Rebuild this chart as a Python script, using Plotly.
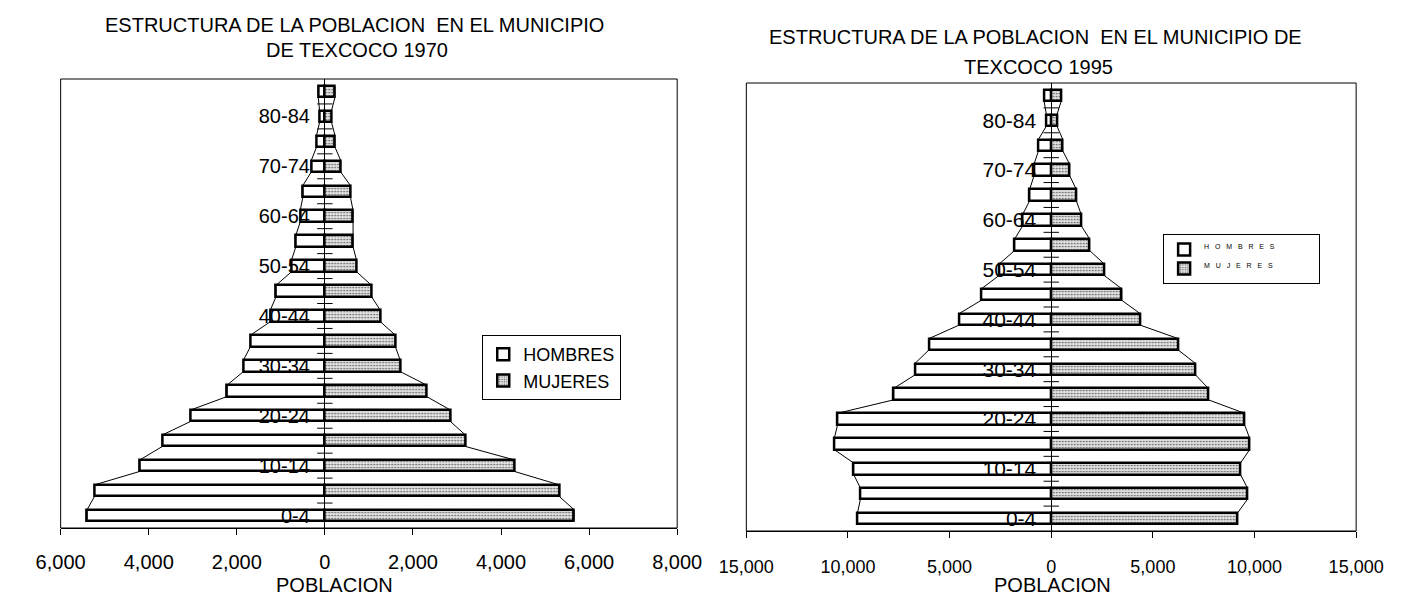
import plotly.graph_objects as go

# ---------------- data ----------------
age_groups = ["0-4", "5-9", "10-14", "15-19", "20-24", "25-29", "30-34", "35-39",
              "40-44", "45-49", "50-54", "55-59", "60-64", "65-69", "70-74",
              "75-79", "80-84", "85+"]

hombres_1970 = [5400, 5230, 4200, 3690, 3050, 2220, 1850, 1690, 1240, 1110,
                760, 660, 560, 500, 310, 190, 120, 150]
mujeres_1970 = [5660, 5320, 4300, 3190, 2850, 2310, 1710, 1600, 1260, 1060,
                720, 640, 640, 580, 360, 230, 150, 230]

hombres_1995 = [9530, 9390, 9720, 10670, 10510, 7750, 6710, 6020, 4540, 3440,
                2560, 1800, 1400, 1060, 850, 630, 240, 350]
mujeres_1995 = [9170, 9650, 9310, 9760, 9510, 7730, 7100, 6250, 4380, 3470,
                2600, 1890, 1470, 1230, 910, 570, 280, 490]

x_ticks_1970 = [-6000, -4000, -2000, 0, 2000, 4000, 6000, 8000]
x_ticks_1995 = [-15000, -10000, -5000, 0, 5000, 10000, 15000]
x_range_1970 = [-6000, 8000]
x_range_1995 = [-15000, 15000]

title_1970 = ["ESTRUCTURA DE LA POBLACION\u00a0 EN EL MUNICIPIO", "DE TEXCOCO 1970"]
title_1995 = ["ESTRUCTURA DE LA POBLACION\u00a0 EN EL MUNICIPIO DE", "TEXCOCO 1995"]
axis_title = "POBLACION"
legend_names = ["HOMBRES", "MUJERES"]

# ---------------- layout geometry (page pixels) ----------------
W, H = 1412, 597
FONT = "Liberation Sans, Arial, sans-serif"
BW = 0.46  # bar thickness in category units

left_px = dict(x0=34, x1=676, y0=79, y1=528)
right_px = dict(x0=748, x1=1383, y0=83, y1=531)


def xdom(p):
    return [p["x0"] / W, p["x1"] / W]


def ydom(p):
    return [(H - p["y1"]) / H, (H - p["y0"]) / H]


def zero_pos(p, rng):
    return (p["x0"] + (p["x1"] - p["x0"]) * (0 - rng[0]) / (rng[1] - rng[0])) / W


pos = list(range(len(age_groups)))

fig = go.Figure()

women_pattern = dict(shape=".", fgcolor="#5a5a5a", bgcolor="#e2e2e2",
                     size=3, solidity=0.25, fillmode="replace")


def add_pyramid(men, women, xa, ya, legend, names):
    # series lines (Excel style connectors between bar ends)
    for vals, sign in ((men, -1), (women, 1)):
        xs, ys = [], []
        for i, v in enumerate(vals):
            xs += [sign * v, sign * v]
            ys += [pos[i] - BW / 2, pos[i] + BW / 2]
        fig.add_trace(go.Scatter(x=xs, y=ys, mode="lines",
                                 line=dict(color="black", width=1),
                                 xaxis=xa, yaxis=ya, showlegend=False,
                                 hoverinfo="skip"))
    fig.add_trace(go.Bar(y=pos, x=[-v for v in men], orientation="h",
                         width=BW, name=names[0],
                         marker=dict(color="white",
                                     line=dict(color="black", width=2.5)),
                         xaxis=xa, yaxis=ya, legend=legend,
                         legendgroup=legend + "h"))
    fig.add_trace(go.Bar(y=pos, x=women, orientation="h",
                         width=BW, name=names[1],
                         marker=dict(color="#e2e2e2", pattern=women_pattern,
                                     line=dict(color="black", width=2.5)),
                         xaxis=xa, yaxis=ya, legend=legend,
                         legendgroup=legend + "m"))
    # small ticks crossing the vertical axis at category boundaries
    fig.add_trace(go.Scatter(x=[0] * (len(pos) - 1),
                             y=[p + 0.5 for p in pos[:-1]],
                             mode="markers",
                             marker=dict(symbol="line-ew", size=11,
                                         line=dict(color="black", width=1)),
                             xaxis=xa, yaxis=ya, showlegend=False,
                             hoverinfo="skip"))


add_pyramid(hombres_1970, mujeres_1970, "x", "y", "legend", legend_names)
sp = "\u00a0\u00a0 "
trail = "\u00a0" * 14
add_pyramid(hombres_1995, mujeres_1995, "x2", "y2", "legend2",
            ["<sup>" + sp.join(n) + "</sup>" + trail for n in legend_names])


def fmt(v):
    return f"{abs(v):,}"


even_pos = pos[::2]
even_labels = age_groups[::2]

common_x = dict(showgrid=False, zeroline=True, zerolinecolor="black",
                zerolinewidth=1, showline=True, linecolor="black",
                linewidth=1, ticks="outside", ticklen=6, tickcolor="black",
                fixedrange=True)
common_y = dict(showgrid=False, zeroline=False, showline=False,
                range=[-0.5, len(pos) - 0.5], tickvals=even_pos,
                ticktext=even_labels, ticks="", anchor="free",
                ticklabelstandoff=15, fixedrange=True)

fig.update_layout(
    width=W, height=H, autosize=False,
    margin=dict(l=0, r=0, t=0, b=0),
    paper_bgcolor="white", plot_bgcolor="white",
    barmode="overlay", bargap=0,
    font=dict(family=FONT, color="black"),
    xaxis=dict(domain=xdom(left_px), range=x_range_1970, anchor="y",
               tickvals=x_ticks_1970, ticktext=[fmt(v) for v in x_ticks_1970],
               tickfont=dict(size=20, family=FONT), ticklabelstandoff=10,
               **common_x),
    yaxis=dict(domain=ydom(left_px), position=zero_pos(left_px, x_range_1970),
               tickfont=dict(size=20, family=FONT), **common_y),
    xaxis2=dict(domain=xdom(right_px), range=x_range_1995, anchor="y2",
                tickvals=x_ticks_1995, ticktext=[fmt(v) for v in x_ticks_1995],
                tickfont=dict(size=18, family=FONT), ticklabelstandoff=13,
                **common_x),
    yaxis2=dict(domain=ydom(right_px), position=zero_pos(right_px, x_range_1995),
                tickfont=dict(size=21, family=FONT), **common_y),
    legend=dict(x=473 / W, y=(H - 335) / H, xanchor="left", yanchor="top",
                bordercolor="black", borderwidth=1, bgcolor="white",
                font=dict(size=18, family=FONT), tracegroupgap=0,
                traceorder="normal", itemclick=False),
    legend2=dict(x=1182 / W, y=(H - 234) / H, xanchor="left", yanchor="top",
                 bordercolor="black", borderwidth=1, bgcolor="white",
                 font=dict(size=10, family=FONT), tracegroupgap=9,
                 traceorder="normal", itemclick=False),
    showlegend=True,
)

# frames around the plot areas
for xr, yr in (("x domain", "y domain"), ("x2 domain", "y2 domain")):
    fig.add_shape(type="rect", xref=xr, yref=yr, x0=0, x1=1, y0=0, y1=1,
                  line=dict(color="black", width=1))

ann = [
    dict(text=title_1970[0], x=340 / W, y=(H - 25) / H, yanchor="middle"),
    dict(text=title_1970[1], x=343 / W, y=(H - 50) / H, yanchor="middle"),
    dict(text=title_1995[0], x=1049 / W, y=(H - 37) / H, yanchor="middle"),
    dict(text=title_1995[1], x=1052 / W, y=(H - 67) / H, yanchor="middle"),
    dict(text=axis_title, x=319 / W, y=0, yanchor="bottom"),
    dict(text=axis_title, x=1067 / W, y=0, yanchor="bottom"),
]
for a in ann:
    fig.add_annotation(xref="paper", yref="paper", xanchor="center",
                       showarrow=False, borderpad=0,
                       font=dict(size=20, family=FONT, color="black"), **a)

# remove the default page margin so the figure sits at the window's top-left
page_fix = ("document.documentElement.style.margin='0';"
            "document.body.style.margin='0';"
            "document.body.style.overflow='hidden';")
fig.write_html("out.html", post_script=page_fix,
               config={"displayModeBar": False, "staticPlot": False})
